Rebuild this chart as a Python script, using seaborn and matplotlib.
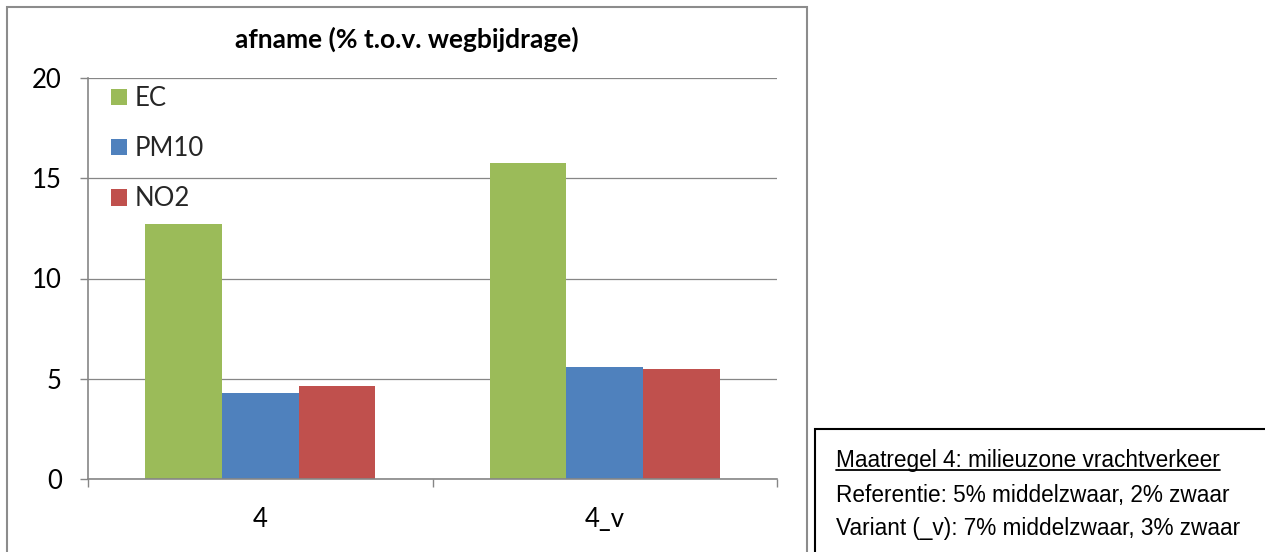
import matplotlib
matplotlib.use("Agg")
import matplotlib.pyplot as plt
from matplotlib.patches import Rectangle, Patch
from matplotlib.lines import Line2D
import pandas as pd
import seaborn as sns

# Scenario data: reduction relative to the road contribution (%)
scenarios = ["4", "4_v"]
stoffen = ["EC", "PM10", "NO2"]
ec_values = [12.72, 15.74]
pm10_values = [4.29, 5.60]
no2_values = [4.62, 5.47]
y_ticks = [0, 5, 10, 15, 20]

title = "afname (% t.o.v. wegbijdrage)"
note_lines = [
    "Maatregel 4: milieuzone vrachtverkeer",
    "Referentie: 5% middelzwaar, 2% zwaar",
    "Variant (_v): 7% middelzwaar, 3% zwaar",
]

colors = {"EC": "#9BBB59", "PM10": "#4F81BD", "NO2": "#C0504D"}

df = pd.DataFrame({
    "scenario": scenarios * 3,
    "stof": ["EC"] * 2 + ["PM10"] * 2 + ["NO2"] * 2,
    "waarde": ec_values + pm10_values + no2_values,
})

sns.set_theme(style="white")
plt.rcParams["font.family"] = ["Lato", "DejaVu Sans"]

W, H = 1265, 552
fig = plt.figure(figsize=(W / 100, H / 100), dpi=100)


def fx(px):
    return px / W


def fy(py):
    return 1 - py / H


# plot area in pixel coordinates
left, right, top, bottom = 88, 777, 78, 479
ax = fig.add_axes([fx(left), fy(bottom), fx(right) - fx(left), fy(top) - fy(bottom)])

sns.barplot(data=df, x="scenario", y="waarde", hue="stof", order=scenarios,
            hue_order=stoffen, palette=colors, width=0.667, dodge=True,
            edgecolor="none", linewidth=0, saturation=1, legend=False, ax=ax)

grey = "#868686"
fs = 18.5
ax.set_xlim(-0.5, 1.5)
ax.set_ylim(0, 20)
ax.set_yticks(y_ticks)
ax.set_yticklabels([str(v) for v in y_ticks])
ax.set_xlabel("")
ax.set_ylabel("")
ax.grid(axis="y", color=grey, linewidth=0.9)
ax.set_axisbelow(True)
for side in ("top", "right"):
    ax.spines[side].set_visible(False)
for side in ("left", "bottom"):
    ax.spines[side].set_color(grey)
    ax.spines[side].set_linewidth(1.2)

ax.tick_params(axis="y", which="major", direction="out", length=5.8, width=1.0,
               color=grey, left=True, labelsize=fs, pad=13, labelcolor="black")
ax.set_xticks([0, 1])
ax.set_xticklabels(scenarios)
ax.set_xticks([-0.5, 0.5, 1.5], minor=True)
ax.tick_params(axis="x", which="major", length=0, labelsize=fs, pad=20,
               labelcolor="black")
ax.tick_params(axis="x", which="minor", direction="out", length=5.8, width=1.0,
               color=grey, bottom=True)

handles = [Patch(facecolor=colors[s], edgecolor="none", label=s) for s in stoffen]
ax.legend(handles=handles, loc="upper left", bbox_to_anchor=(0.0334, 0.980),
          frameon=False, fontsize=fs, handlelength=0.62, handleheight=0.62,
          handletextpad=0.28, labelspacing=0.98, borderpad=0, borderaxespad=0)

fig.text(fx(407), fy(48), title, ha="center", va="baseline",
         fontsize=19, fontweight="bold", color="black")

# chart frame
fig.patches.append(Rectangle((fx(7), fy(570)), fx(807) - fx(7), fy(7) - fy(570),
                             transform=fig.transFigure, fill=False,
                             edgecolor="#8c8c8c", linewidth=1.5))

# note box
fig.patches.append(Rectangle((fx(815), fy(570)), fx(1290) - fx(815), fy(429) - fy(570),
                             transform=fig.transFigure, fill=False,
                             edgecolor="black", linewidth=1.5))

baselines = [467, 502, 535]
texts = []
for line, yb in zip(note_lines, baselines):
    texts.append(fig.text(fx(836), fy(yb), line, ha="left", va="baseline",
                          fontsize=16.3, family="Liberation Sans", color="black"))

fig.canvas.draw()
bb = texts[0].get_window_extent()
fig.add_artist(Line2D([bb.x0 / W, bb.x1 / W], [fy(469.5), fy(469.5)],
                      transform=fig.transFigure, color="black", linewidth=1.3))

fig.savefig("out.png", dpi=100)
